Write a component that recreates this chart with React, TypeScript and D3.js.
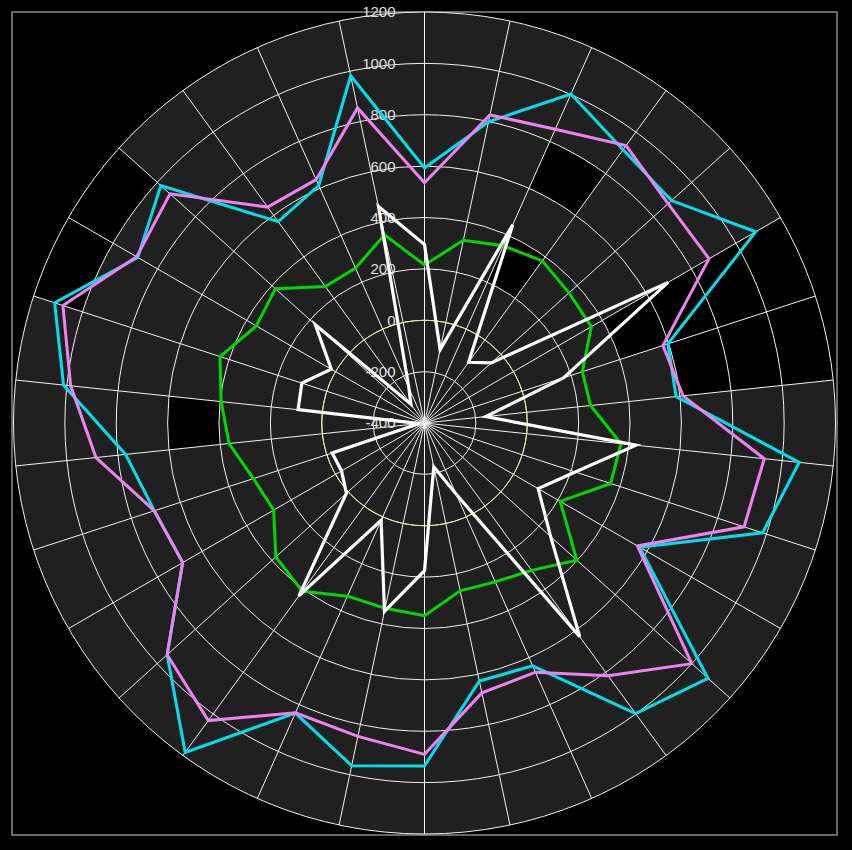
import React, { useEffect } from "react";
import * as d3 from "d3";

// ---- data ----
const angles: number[] = [0, 12, 24, 36, 48, 60, 72, 84, 96, 108, 120, 132, 144, 156, 168, 180, 192, 204, 216, 228, 240, 252, 264, 276, 288, 300, 312, 324, 336, 348];
const cyanSeries: number[] = [593, 799, 1002, 915, 894, 1089, 596, 585, 1067, 984, 567, 1085, 998, 635, 627, 935, 964, 836, 1185, 948, 687, 706, 770, 1013, 1114, 889, 981, 569, 612, 982];
const violetSeries: number[] = [535, 826, 852, 935, 876, 879, 576, 612, 930, 908, 557, 1000, 816, 662, 674, 890, 847, 835, 1032, 948, 687, 706, 886, 985, 1080, 894, 933, 639, 637, 854];
const greenSeries: number[] = [215, 327, 355, 380, 357, 350, 246, 250, 369, 362, 210, 398, 309, 277, 268, 350, 337, 338, 409, 379, 278, 300, 365, 396, 437, 356, 381, 257, 260, 349];
const whiteSeries: number[] = [295, -108, 445, -108, -50, 695, 170, -160, 428, 217, 111, 261, 628, -96, -226, 175, 350, 15, 432, 9, -27, -22, -380, 95, 102, 19, 172, -310, -250, 462];
const radialTicks: number[] = [-400, -200, 0, 200, 400, 600, 800, 1000, 1200];
const zeroRing = 0;
// cells (sector index, ring index) that are left unfilled
const blackCells: [number, number][] = [[2, 3], [2, 5], [5, 4], [5, 5], [5, 6], [5, 7], [6, 5], [6, 6], [6, 7], [22, 4], [24, 7], [25, 7]];

const W = 852;
const H = 850;
const cx = 424.5;
const cy = 423;
const R = 411;

export default function App() {
  useEffect(() => {
    document.body.style.margin = "0";
    document.body.style.background = "#000";
  }, []);

  const r = d3.scaleLinear().domain([radialTicks[0], radialTicks[radialTicks.length - 1]]).range([0, R]);
  const a = d3.scaleLinear().domain([0, 360]).range([0, 2 * Math.PI]);
  const step = 360 / angles.length;

  const line = d3
    .lineRadial<number>()
    .angle((_, i) => a(angles[i]))
    .radius((d) => r(d))
    .curve(d3.curveLinearClosed);

  const arc = d3.arc();
  const blackSet = new Set(blackCells.map(([s, i]) => `${s}-${i}`));

  const cells: JSX.Element[] = [];
  angles.forEach((ang, s) => {
    for (let i = 0; i < radialTicks.length - 1; i++) {
      const p = arc({
        innerRadius: r(radialTicks[i]),
        outerRadius: r(radialTicks[i + 1]),
        startAngle: a(ang),
        endAngle: a(ang + step),
      } as any) as string;
      cells.push(
        <path key={`c${s}-${i}`} d={p} fill={blackSet.has(`${s}-${i}`) ? "#000" : "url(#tex)"} />
      );
    }
  });

  const series = [
    { data: cyanSeries, color: "#00e0ea", w: 3 },
    { data: violetSeries, color: "#ee82ee", w: 3 },
    { data: greenSeries, color: "#00d800", w: 3 },
    { data: whiteSeries, color: "#ffffff", w: 3.2 },
  ];

  return (
    <svg width={W} height={H} style={{ display: "block", background: "#000" }}>
      <defs>
        <pattern id="tex" width="4" height="4" patternUnits="userSpaceOnUse">
          <rect width="4" height="4" fill="#1d1d1d" />
          <path d="M0,4 L4,0 M-1,1 L1,-1 M3,5 L5,3" stroke="#292929" strokeWidth="1" />
        </pattern>
      </defs>
      <rect x={0} y={0} width={W} height={H} fill="#000" />
      <rect x={12} y={12} width={825} height={823} fill="none" stroke="#8a8a8a" strokeWidth={1.5} />
      <g transform={`translate(${cx},${cy})`}>
        {cells}
        {radialTicks.slice(1).map((t) => (
          <circle key={`ring${t}`} r={r(t)} fill="none" stroke="#f2f2f2" strokeWidth={1} />
        ))}
        {angles.map((ang) => {
          const th = a(ang);
          return (
            <line
              key={`sp${ang}`}
              x1={0}
              y1={0}
              x2={R * Math.sin(th)}
              y2={-R * Math.cos(th)}
              stroke="#f2f2f2"
              strokeWidth={1}
            />
          );
        })}
        <circle r={r(zeroRing)} fill="none" stroke="#e8e8a0" strokeWidth={1} />
        {radialTicks.map((t) => (
          <text
            key={`lb${t}`}
            x={-29}
            y={-r(t)}
            dy="0.36em"
            textAnchor="end"
            fontFamily="'Liberation Sans', Arial, sans-serif"
            fontSize={15}
            fill="#e0e0e0"
          >
            {t}
          </text>
        ))}
        {series.map((s, i) => (
          <path key={`s${i}`} d={line(s.data) as string} fill="none" stroke={s.color} strokeWidth={s.w} strokeLinejoin="miter" />
        ))}
      </g>
    </svg>
  );
}
